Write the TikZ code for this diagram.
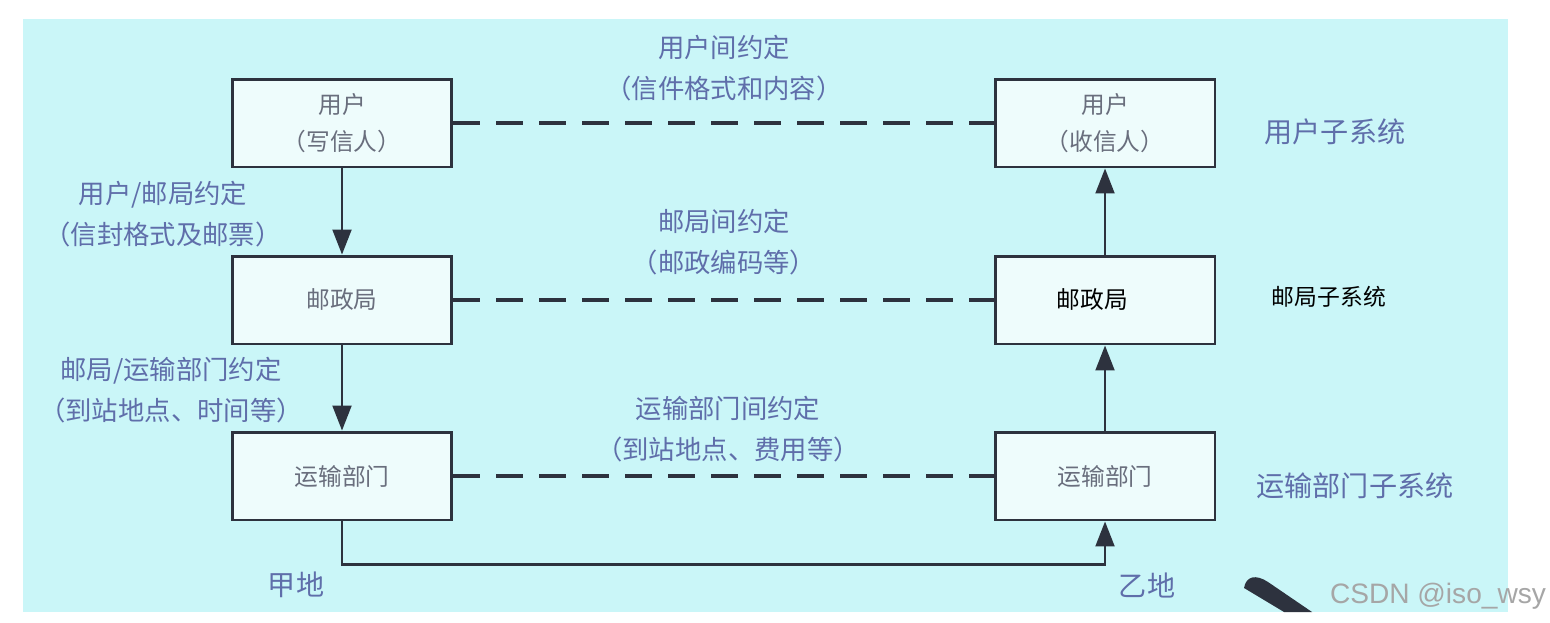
\documentclass[tikz,border=0pt]{standalone}
\usepackage{fontspec}
\newfontfamily\cjk{Noto Sans CJK SC}
\newfontfamily\wmfont{Liberation Sans}
\usetikzlibrary{arrows.meta}
\definecolor{bgcyan}{RGB}{202,246,248}
\definecolor{boxfill}{RGB}{238,252,252}
\definecolor{edge}{RGB}{45,50,62}
\definecolor{labelblue}{RGB}{95,110,170}
\definecolor{boxtext}{RGB}{105,110,125}

\begin{document}
\begin{tikzpicture}[x=0.02cm, y=-0.02cm,
  box/.style={draw=edge, line width=1.7pt, fill=boxfill, minimum width=4.4cm, minimum height=1.76cm, align=center, text=boxtext, font=\cjk\fontsize{13.5}{21}\selectfont},
  tag/.style={align=center, text=labelblue, font=\cjk\fontsize{15}{23}\selectfont},
  side/.style={text=labelblue, font=\cjk\fontsize{16}{20}\selectfont},
  link/.style={draw=edge, line width=2pt, dash pattern=on 0.54cm off 0.32cm},
  arrow/.style={-{Triangle[length=0.5cm, width=0.38cm]}, draw=edge, line width=1.2pt}
]
\useasboundingbox (0,0) rectangle (1550,622);
\fill[white] (0,0) rectangle (1550,622);
\fill[bgcyan] (23,19) rectangle (1508,612);

% boxes
\node[box] (send) at (342,123) {用户\\（写信人）};
\node[box] (post1) at (342,300) {邮政局};
\node[box] (trans1) at (342,476) {运输部门};
\node[box] (recv) at (1105,123) {用户\\（收信人）};
\node[box, text=black, font=\cjk\fontsize{13.5}{16}\selectfont] (post2) at (1105,300) {邮政局\hspace*{0.5cm}};
\node[box] (trans2) at (1105,476) {运输部门};

% peer agreements
\draw[link] (send) -- (recv);
\draw[link] (post1) -- (post2);
\draw[link] (trans1) -- (trans2);

% service path
\draw[arrow] (send) -- (post1);
\draw[arrow] (post1) -- (trans1);
\draw[arrow] (trans1.south) -- ++(0,43) -| (trans2.south);
\draw[arrow] (trans2) -- (post2);
\draw[arrow] (post2) -- (recv);

% labels
\node[tag] (tagusers) at (724,68) {用户间约定\\（信件格式和内容）};
\node[tag] (tagposts) at (724,242) {邮局间约定\\（邮政编码等）};
\node[tag] (tagtrans) at (728,429) {运输部门间约定\\（到站地点、费用等）};
\node[tag] (tagup) at (163,214) {用户/邮局约定\\（信封格式及邮票）};
\node[tag] (tagdown) at (171,390) {邮局/运输部门约定\\（到站地点、时间等）};

\node[side] (subuser) at (1335,132) {用户子系统};
\node[text=black, font=\cjk\fontsize{13}{16}\selectfont] (subpost) at (1329,297) {邮局子系统};
\node[side] (subtrans) at (1355,486) {运输部门子系统};

\node[side] (jia) at (296,585) {甲地};
\node[side] (yi) at (1147,585) {乙地};

% pointer and watermark
\fill[edge] (1244,588) .. controls (1246,576) and (1256,574) .. (1268,582) -- (1312,612) -- (1284,612) -- cycle;
\node[text=black!35, font=\wmfont\fontsize{16}{18}\selectfont] (mark) at (1438,596) {CSDN @iso\_wsy};
\end{tikzpicture}
\end{document}
